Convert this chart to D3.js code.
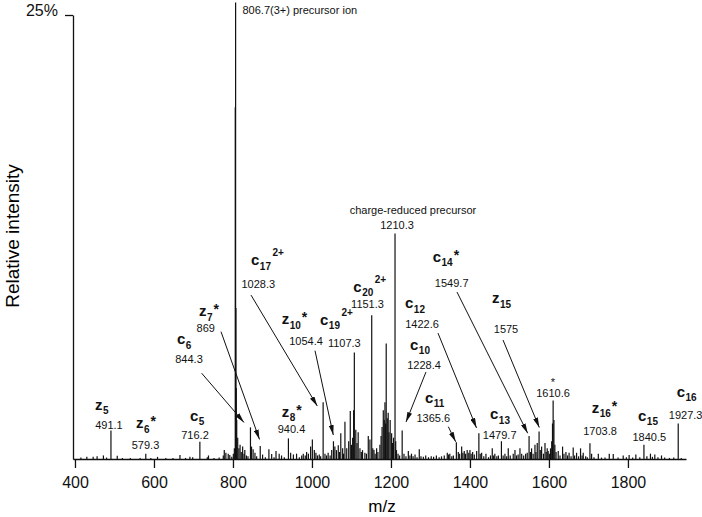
<!DOCTYPE html>
<html lang="en">
<head>
<meta charset="UTF-8">
<title>ETD spectrum</title>
<script src="https://cdn.jsdelivr.net/npm/d3@7"></script>
<style>
  body { margin: 0; background: #fff; }
  svg { display: block; font-family: "Liberation Sans", Arial, Helvetica, sans-serif; }
  .ion { font-weight: bold; font-size: 15px; fill: #111; }
  .val { font-size: 11px; fill: #111; }
  .axis text { font-size: 16px; fill: #111; font-family: "Liberation Sans", Arial, sans-serif; }
  .axis path, .axis line { stroke: #111; stroke-width: 1.3px; }
</style>
</head>
<body>
<svg id="chart" width="702" height="517"></svg>
<script>
// tick values
const xTicks = [400, 600, 800, 1000, 1200, 1400, 1600, 1800];
const yTicks = [25];
const yTickLabels = ['25%'];

// peaks: [m/z, relative intensity %]
const peaks = [
  [415, 0.08], [430, 0.12], [446, 0.12], [456, 0.15], [472, 0.2], [480, 0.08],
  [491.1, 1.6], [507, 0.18], [520, 0.06], [540, 0.05], [565, 0.06], [579.3, 0.3],
  [592, 0.05], [609, 0.12], [630, 0.05], [648, 0.06], [665.8, 0.22], [680, 0.06],
  [691, 0.12], [698, 0.1], [716.2, 0.97], [735, 0.1], [738, 0.2], [752, 0.06],
  [765, 0.08], [775.5, 0.2], [778, 0.5], [782, 0.35], [788, 0.3], [792, 0.22],
  [797, 0.12], [801, 0.3], [803.5, 0.6], [805.8, 19.8], [806.7, 25.7], [807.5, 8.5],
  [808.4, 4.0], [809.5, 2.2], [812, 1.2], [815, 0.6], [818, 0.8], [821, 0.4],
  [824.5, 0.7], [828, 0.3], [830, 0.5], [834, 0.2], [838, 0.15], [844.3, 1.78],
  [847, 0.7], [851, 0.55], [855.7, 0.35], [860, 0.15], [869, 0.73], [875, 0.25],
  [882, 0.1], [891, 0.55], [898, 0.28], [904, 0.1], [909, 0.45], [917, 0.3],
  [923, 0.2], [930, 0.1], [940.4, 1.16], [946, 0.35], [953, 0.25], [961, 0.3],
  [968, 0.1], [974, 0.2], [978, 0.3], [983, 0.2], [986.5, 0.4], [991, 0.3],
  [996.6, 0.7], [1001, 1.1], [1006, 0.5], [1010, 0.35], [1014, 0.2], [1018.5, 0.25],
  [1022, 0.15], [1028.3, 3.2], [1033, 0.3], [1037, 0.2], [1041, 0.35], [1046, 0.2],
  [1050, 0.5], [1054.4, 1.0], [1058, 0.7], [1062, 0.5], [1066.6, 0.78], [1070, 0.4],
  [1073, 1.45], [1077.7, 0.6], [1080, 0.3], [1083.5, 2.1], [1088, 0.6], [1093, 1.0],
  [1097, 2.7], [1100, 0.8], [1103, 1.2], [1105.5, 2.75], [1107.3, 6.0], [1111, 1.65],
  [1114, 0.9], [1117, 1.5], [1121.5, 0.6], [1125, 0.4], [1128, 0.5], [1134, 0.35],
  [1138, 0.3], [1142.6, 1.3], [1146.8, 1.1], [1151.3, 8.1], [1154, 0.6], [1157, 0.5],
  [1160, 0.3], [1163.7, 0.6], [1167, 0.4], [1172, 0.8], [1175, 1.3], [1177.5, 1.8],
  [1180.6, 2.75], [1183, 2.2], [1184.8, 3.2], [1186.5, 2.0], [1188, 6.5], [1190.7, 2.3],
  [1193, 2.6], [1195, 1.5], [1198, 2.2], [1201.7, 1.45], [1204, 0.9], [1206.5, 1.2],
  [1210.3, 12.7], [1212, 1.0], [1214, 0.5], [1218, 0.3], [1222, 0.2], [1228.4, 1.6],
  [1233, 0.3], [1238, 0.15], [1244, 0.45], [1248, 0.2], [1252, 0.3], [1256, 0.15],
  [1261, 0.25], [1266, 0.1], [1271.7, 0.55], [1276, 0.15], [1282, 0.12], [1288, 0.2],
  [1295, 0.1], [1302, 0.15], [1308, 0.12], [1315, 0.2], [1322, 0.1], [1328, 0.15],
  [1335, 0.2], [1342.6, 0.35], [1346, 0.25], [1349, 0.3], [1354, 0.15], [1358, 0.2],
  [1365.6, 0.95], [1370.5, 0.4], [1374, 0.3], [1379, 0.7], [1382, 0.35], [1385.6, 0.45],
  [1389, 0.3], [1393, 0.5], [1397, 0.35], [1400, 0.5], [1403, 0.3], [1406.8, 0.4],
  [1411, 0.25], [1417, 0.45], [1422.6, 1.45], [1426, 0.3], [1429.6, 0.35], [1435, 0.15],
  [1440.5, 0.3], [1447, 0.1], [1452, 0.2], [1456.5, 0.6], [1460, 0.2], [1463, 0.3],
  [1468, 0.15], [1472, 0.2], [1479.7, 1.0], [1484, 0.2], [1488.6, 0.3], [1493, 0.15],
  [1497, 0.6], [1502, 0.2], [1509.6, 0.3], [1514, 0.5], [1518, 0.2], [1522, 0.25],
  [1526.6, 0.6], [1531, 0.3], [1536, 0.2], [1541, 0.3], [1545, 0.35], [1549.7, 1.3],
  [1553, 0.4], [1556, 0.6], [1560, 0.3], [1564.6, 0.8], [1567, 0.4], [1570.4, 0.9],
  [1575, 1.55], [1578, 0.5], [1581.4, 0.7], [1586, 0.3], [1590, 0.9], [1593, 0.4],
  [1595.6, 0.6], [1598, 0.45], [1601, 0.3], [1604, 0.6], [1607, 1.0], [1609, 2.0],
  [1610.6, 3.3], [1612.6, 2.2], [1615, 0.8], [1618, 0.4], [1623.5, 0.45], [1628, 0.2],
  [1634.5, 0.7], [1638, 0.3], [1643, 0.4], [1647, 0.2], [1651, 0.35], [1656, 0.15],
  [1661.4, 0.65], [1665, 0.2], [1670, 0.35], [1675, 0.15], [1680, 0.6], [1684, 0.2],
  [1686.8, 0.35], [1693, 0.15], [1697, 0.1], [1703.8, 0.88], [1708, 0.3], [1714, 0.1],
  [1725, 0.3], [1733, 0.08], [1742, 0.08], [1752.7, 0.3], [1762.8, 0.28], [1775, 0.08],
  [1788, 0.2], [1796, 0.1], [1803, 0.22], [1812, 0.08], [1820, 0.25], [1830, 0.1],
  [1840.5, 0.8], [1848, 0.15], [1857, 0.3], [1862, 0.12], [1868, 0.25], [1876, 0.1],
  [1885, 0.2], [1893, 0.08], [1905, 0.06], [1916, 0.08], [1927.3, 2.0], [1935, 0.05]
];

// fragment ion labels
const ionLabels = [
  { ion: 'z', sub: '5', tag: '', value: '491.1' },
  { ion: 'z', sub: '6', tag: '*', value: '579.3' },
  { ion: 'c', sub: '5', tag: '', value: '716.2' },
  { ion: 'c', sub: '6', tag: '', value: '844.3' },
  { ion: 'z', sub: '7', tag: '*', value: '869' },
  { ion: 'z', sub: '8', tag: '*', value: '940.4' },
  { ion: 'c', sub: '17', tag: '2+', value: '1028.3' },
  { ion: 'z', sub: '10', tag: '*', value: '1054.4' },
  { ion: 'c', sub: '19', tag: '2+', value: '1107.3' },
  { ion: 'c', sub: '20', tag: '2+', value: '1151.3' },
  { ion: 'c', sub: '10', tag: '', value: '1228.4' },
  { ion: 'c', sub: '11', tag: '', value: '1365.6' },
  { ion: 'c', sub: '12', tag: '', value: '1422.6' },
  { ion: 'c', sub: '13', tag: '', value: '1479.7' },
  { ion: 'c', sub: '14', tag: '*', value: '1549.7' },
  { ion: 'z', sub: '15', tag: '', value: '1575' },
  { ion: 'z', sub: '16', tag: '*', value: '1703.8' },
  { ion: 'c', sub: '15', tag: '', value: '1840.5' },
  { ion: 'c', sub: '16', tag: '', value: '1927.3' }
];

// label placement in data units: [name m/z, name %, value m/z, value %]
const ionLayout = [
  [450.7, 2.76, 486.1, 1.69],
  [554.5, 1.73, 578.6, 0.55],
  [691.2, 2.16, 703.9, 1.11],
  [658.3, 6.45, 688.7, 5.42],
  [714.0, 8.05, 731.2, 7.17],
  [923.4, 2.38, 948.2, 1.48],
  [845.7, 10.92, 864.1, 9.61],
  [923.4, 7.58, 984.9, 6.42],
  [1020.4, 7.55, 1081.9, 6.32],
  [1104.7, 9.42, 1140.6, 8.50],
  [1248.2, 6.14, 1283.7, 5.07],
  [1286.2, 3.17, 1307.2, 2.10],
  [1235.6, 8.50, 1278.6, 7.38],
  [1450.8, 2.24, 1475.3, 1.11],
  [1305.7, 11.11, 1353.8, 9.70],
  [1455.8, 8.77, 1491.3, 7.09],
  [1708.2, 2.61, 1729.3, 1.35],
  [1825.5, 2.16, 1854.1, 1.03],
  [1923.4, 3.51, 1946.2, 2.24]
];

// other text notes: [text, m/z, %, anchor]
const notes = [
  ['806.7(3+) precursor ion', 824.1, 25.06, 'start'],
  ['charge-reduced precursor', 1255.8, 13.8, 'middle'],
  ['1210.3', 1215.3, 12.95, 'middle'],
  ['*', 1610.3, 4.1, 'middle'],
  ['1610.6', 1610.3, 3.49, 'middle']
];

// arrows: [from m/z, from %, to m/z, to %]
const arrows = [
  [720.8, 4.83, 827.9, 2.06],
  [769.7, 7.17, 867.2, 1.10],
  [845.7, 9.23, 1013.5, 2.98],
  [1007.7, 6.10, 1054.0, 1.35],
  [1288.7, 4.90, 1238.1, 2.08],
  [1345.2, 1.82, 1363.9, 0.97],
  [1319.1, 7.09, 1416.6, 1.75],
  [1367.2, 9.40, 1546.2, 1.45],
  [1483.7, 6.70, 1575.6, 1.77]
];

const svg = d3.select('#chart');
const x = d3.scaleLinear().domain([395, 1947]).range([73, 686]);
const y = d3.scaleLinear().domain([0, 25]).range([459, 15]);

svg.append('defs').append('marker')
  .attr('id', 'head')
  .attr('viewBox', '0 0 10 5')
  .attr('refX', 10).attr('refY', 2.5)
  .attr('markerWidth', 10).attr('markerHeight', 5)
  .attr('markerUnits', 'userSpaceOnUse')
  .attr('orient', 'auto')
  .append('path').attr('d', 'M0,0L10,2.5L0,5Z').attr('fill', '#111');

// spectrum sticks
svg.append('g')
  .selectAll('line')
  .data(peaks)
  .enter().append('line')
  .attr('x1', d => x(d[0])).attr('x2', d => x(d[0]))
  .attr('y1', y(0)).attr('y2', d => y(d[1]))
  .attr('stroke', '#111')
  .attr('stroke-width', 1.2);

// axes
svg.append('g')
  .attr('class', 'axis')
  .attr('transform', `translate(0,${y(0)})`)
  .call(d3.axisBottom(x).tickValues(xTicks).tickSize(9).tickSizeOuter(0).tickPadding(8.6).tickFormat(d3.format('d')));

const yAxis = svg.append('g')
  .attr('class', 'axis')
  .attr('transform', `translate(${x(395)},0)`)
  .call(d3.axisLeft(y).tickValues(yTicks).tickSize(8).tickSizeOuter(0).tickPadding(7)
    .tickFormat((d, i) => yTickLabels[i]));
yAxis.selectAll('text').attr('dy', '0em');

svg.append('text')
  .attr('x', 382).attr('y', 512)
  .attr('text-anchor', 'middle')
  .attr('font-size', 17)
  .text('m/z');

svg.append('text')
  .attr('transform', 'translate(19,236) rotate(-90)')
  .attr('text-anchor', 'middle')
  .attr('font-size', 19)
  .text('Relative intensity');

// arrows
svg.append('g')
  .selectAll('line')
  .data(arrows)
  .enter().append('line')
  .attr('x1', d => x(d[0])).attr('y1', d => y(d[1]))
  .attr('x2', d => x(d[2])).attr('y2', d => y(d[3]))
  .attr('stroke', '#111')
  .attr('stroke-width', 1)
  .attr('marker-end', 'url(#head)');

// ion labels
const lab = svg.append('g');
ionLabels.forEach((d, i) => {
  const p = ionLayout[i];
  const t = lab.append('text').attr('class', 'ion')
    .attr('x', x(p[0])).attr('y', y(p[1]));
  t.append('tspan').text(d.ion);
  t.append('tspan').attr('font-size', 10).attr('dx', 0.5).attr('dy', 4.5).text(d.sub);
  if (d.tag === '2+') {
    t.append('tspan').attr('font-size', 10).attr('dx', 1.5).attr('dy', -13.5).text(d.tag);
  } else if (d.tag === '*') {
    t.append('tspan').attr('font-size', 14).attr('dx', 1).attr('dy', -6.5).text(d.tag);
  }
  lab.append('text').attr('class', 'val')
    .attr('x', x(p[2])).attr('y', y(p[3]))
    .attr('text-anchor', 'middle')
    .text(d.value);
});

lab.selectAll('.note')
  .data(notes)
  .enter().append('text')
  .attr('class', 'val note')
  .attr('x', d => x(d[1])).attr('y', d => y(d[2]))
  .attr('text-anchor', d => d[3])
  .attr('font-size', d => d[0] === '*' ? 13 : 11)
  .text(d => d[0]);
</script>
</body>
</html>
